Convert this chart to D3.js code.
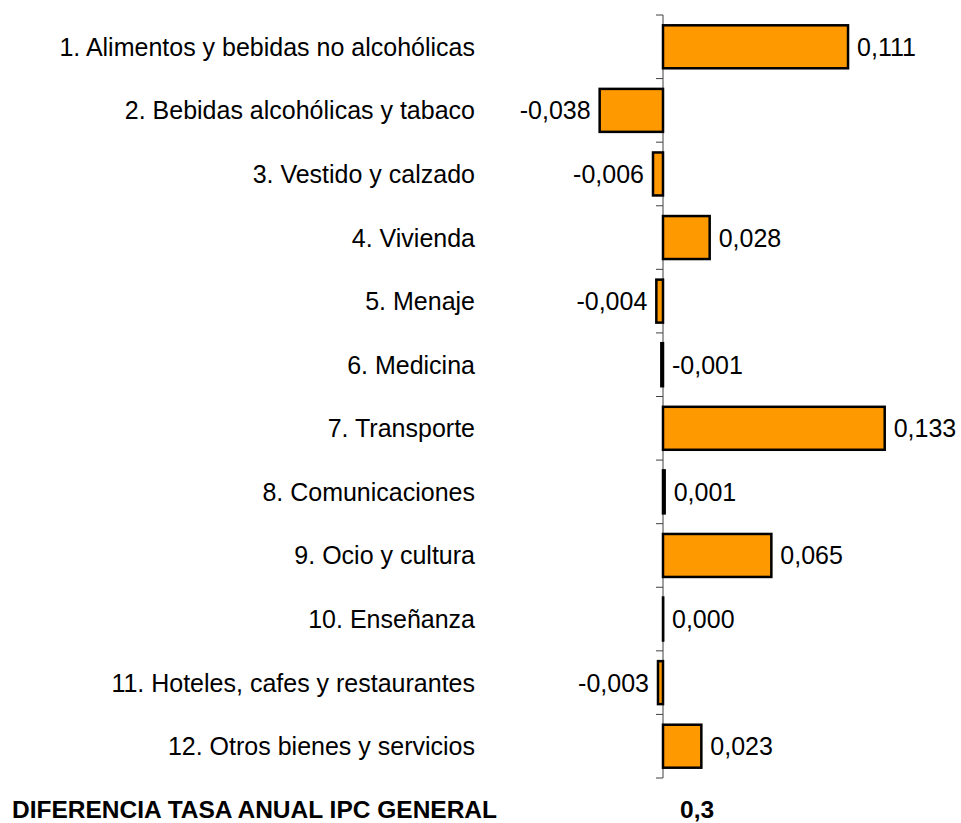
<!DOCTYPE html>
<html>
<head>
<meta charset="utf-8">
<script src="https://cdn.jsdelivr.net/npm/d3@7"></script>
<style>
body { margin: 0; background: white; }
</style>
</head>
<body>
<div id="grafico"></div>
<script>
// datos del grafico
var categorias = ["1. Alimentos y bebidas no alcohólicas",
				"2. Bebidas alcohólicas y tabaco",
				"3. Vestido y calzado",
				"4. Vivienda",
				"5. Menaje",
				"6. Medicina",
				"7. Transporte",
				"8. Comunicaciones",
				"9. Ocio y cultura",
				"10. Enseñanza",
				"11. Hoteles, cafes y restaurantes",
				"12. Otros bienes y servicios"];
var valores = [0.111, -0.038, -0.006, 0.028, -0.004, -0.001, 0.133, 0.001, 0.065, 0.000, -0.003, 0.023];
var etiquetas = ["0,111", "-0,038", "-0,006", "0,028", "-0,004", "-0,001", "0,133", "0,001", "0,065", "0,000", "-0,003", "0,023"];
var totalTexto = "DIFERENCIA TASA ANUAL IPC GENERAL";
var totalValor = "0,3";

var width = 961;
var height = 823;
var fuente = "'Liberation Sans', Arial, sans-serif";

var svgContainer = d3.select("#grafico").append("svg")
		.attr("width", width)
		.attr("height", height);

var x = d3.scaleLinear()
		.domain([-0.04, 0.14])
		.range([663 - 0.04 * 1667, 663 + 0.14 * 1667]);

var y = d3.scaleBand()
		.domain(categorias)
		.range([15, 778])
		.paddingInner(0.324)
		.paddingOuter(0.162);

// eje vertical con marcas entre categorias
var marcas = d3.range(categorias.length + 1).map(function(i){ return 15 + i * y.step(); });

svgContainer.append("line")
	.attr("x1", x(0))
	.attr("x2", x(0))
	.attr("y1", 15)
	.attr("y2", 778)
	.style("stroke", "#404040")
	.style("stroke-width", 1);

svgContainer.selectAll("line.marca")
	.data(marcas)
	.enter()
	.append("line")
	.attr("class", "marca")
	.attr("x1", x(0) - 7)
	.attr("x2", x(0))
	.attr("y1", function(d){ return d; })
	.attr("y2", function(d){ return d; })
	.style("stroke", "#404040")
	.style("stroke-width", 1);

// barras (ancho minimo para que el valor 0 se vea como linea)
svgContainer.selectAll("rect.barra")
	.data(valores)
	.enter()
	.append("rect")
	.attr("class", "barra")
	.attr("x", function(d){ return x(Math.min(0, d)); })
	.attr("y", function(d, i){ return y(categorias[i]); })
	.attr("width", function(d){ return Math.max(0.2, Math.abs(x(d) - x(0))); })
	.attr("height", y.bandwidth())
	.style("fill", "#ff9900")
	.style("stroke", "black")
	.style("stroke-width", 2.5);

// nombres de categorias
svgContainer.selectAll("text.categoria")
	.data(categorias)
	.enter()
	.append("text")
	.attr("class", "categoria")
	.attr("x", 475)
	.attr("y", function(d){ return y(d) + y.bandwidth() / 2; })
	.attr("dy", "0.36em")
	.attr("text-anchor", "end")
	.attr("font-family", fuente)
	.attr("font-size", "25px")
	.attr("fill", "black")
	.text(function(d){ return d; });

// valores
svgContainer.selectAll("text.valor")
	.data(valores)
	.enter()
	.append("text")
	.attr("class", "valor")
	.attr("x", function(d){ return d < -0.002 ? x(d) - 9 : x(Math.max(0, d)) + 9; })
	.attr("y", function(d, i){ return y(categorias[i]) + y.bandwidth() / 2; })
	.attr("dy", "0.36em")
	.attr("text-anchor", function(d){ return d < -0.002 ? "end" : "start"; })
	.attr("font-family", fuente)
	.attr("font-size", "25px")
	.attr("fill", "black")
	.text(function(d, i){ return etiquetas[i]; });

// total
svgContainer.append("text")
	.attr("x", 12)
	.attr("y", 818)
	.attr("font-family", fuente)
	.attr("font-size", "24.5px")
	.attr("font-weight", "bold")
	.attr("fill", "black")
	.text(totalTexto);

svgContainer.append("text")
	.attr("x", 680)
	.attr("y", 818)
	.attr("font-family", fuente)
	.attr("font-size", "24.5px")
	.attr("font-weight", "bold")
	.attr("fill", "black")
	.text(totalValor);
</script>
</body>
</html>
